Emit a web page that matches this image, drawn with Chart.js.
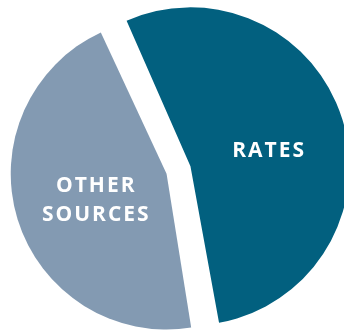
<!DOCTYPE html>
<html>
<head>
<meta charset="utf-8">
<script src="https://cdn.jsdelivr.net/npm/chart.js@4.4.1/dist/chart.umd.min.js"></script>
<style>
  html, body { margin: 0; padding: 0; background: #fff; }
  #wrap { width: 344px; height: 336px; }
</style>
</head>
<body>
<div id="wrap"><canvas id="revenue"></canvas></div>
<script>
const labels = [['RATES'], ['OTHER', 'SOURCES']];
const shares = [54.1, 45.9];
const colors = ['#02607f', '#839ab2'];

// white captions drawn inside each slice
const sliceLabels = {
  id: 'sliceLabels',
  afterDatasetsDraw(chart) {
    const ctx = chart.ctx;
    const arcs = chart.getDatasetMeta(0).data;
    // small per-slice nudges: angle (rad) and fraction of the radius
    const turn = [0.09, -0.055];
    const reach = [0.54, 0.52];
    ctx.save();
    ctx.fillStyle = '#fff';
    ctx.font = 'bold 21px "Open Sans"';
    ctx.letterSpacing = '2px';
    ctx.textAlign = 'center';
    ctx.textBaseline = 'middle';
    arcs.forEach((arc, i) => {
      const { x, y, startAngle, endAngle, outerRadius } = arc.getProps(
        ['x', 'y', 'startAngle', 'endAngle', 'outerRadius'], true);
      const mid = (startAngle + endAngle) / 2 + turn[i];
      // the arc element shifts a slice by a quarter of its offset
      const dist = arc.options.offset / 4 + outerRadius * reach[i];
      const cx = x + Math.cos(mid) * dist;
      const cy = y + Math.sin(mid) * dist;
      const lines = labels[i];
      const lh = 29.5;
      lines.forEach((t, j) => {
        ctx.fillText(t, cx + 1, cy + (j - (lines.length - 1) / 2) * lh);
      });
    });
    ctx.restore();
  },
};

new Chart(document.getElementById('revenue'), {
  type: 'pie',
  data: {
    labels: labels.map((l) => l.join(' ')),
    datasets: [
      {
        data: shares,
        backgroundColor: colors,
        borderWidth: 0,
        offset: 50,
        hoverOffset: 0,
        clip: false,
      },
    ],
  },
  plugins: [sliceLabels],
  options: {
    responsive: true,
    maintainAspectRatio: false,
    animation: false,
    rotation: -24.4,
    radius: 146.5,
    layout: {
      padding: { left: 13, right: 0, top: 4, bottom: 0 },
    },
    plugins: {
      legend: { display: false },
      tooltip: { enabled: false },
    },
  },
});
</script>
</body>
</html>
